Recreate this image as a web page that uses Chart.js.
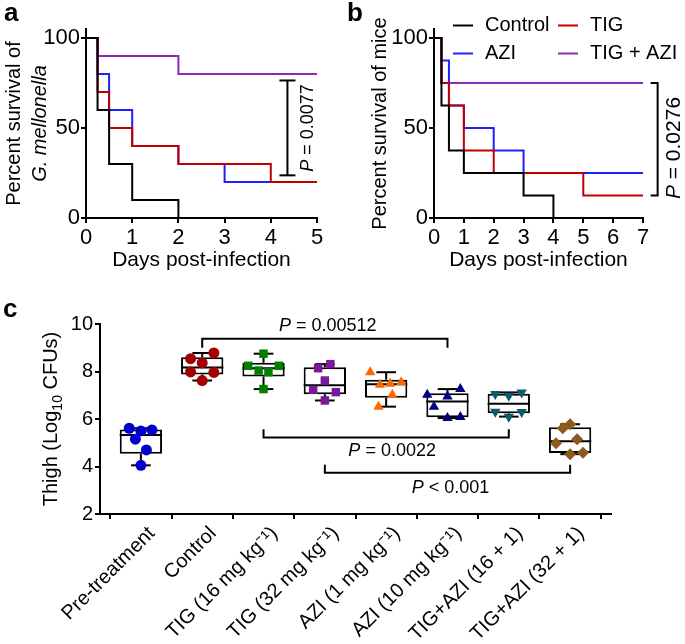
<!DOCTYPE html>
<html>
<head>
<meta charset="utf-8">
<script src="https://cdn.jsdelivr.net/npm/chart.js@4.4.1/dist/chart.umd.min.js"></script>
<style>
  html, body { margin: 0; padding: 0; background: #fff; }
  body { width: 685px; height: 644px; position: relative; overflow: hidden; }
  canvas { position: absolute; }
  #chartA { left: 0; top: 0; }
  #chartB { left: 340px; top: 0; }
  #chartC { left: 0; top: 290px; }
</style>
</head>
<body>
<canvas id="chartA" width="340" height="290"></canvas>
<canvas id="chartB" width="345" height="290"></canvas>
<canvas id="chartC" width="685" height="354"></canvas>
<script>
// panel a: G. mellonella survival (day of change, % alive from then on)
const aControlDays = [0, 0.25, 0.5, 1, 2];
const aControlSurv = [100, 60, 30, 10, 0];
const aTigDays = [0, 0.25, 0.5, 1, 2, 4, 5];
const aTigSurv = [100, 70, 50, 40, 30, 20, 20];
const aAziDays = [0, 0.25, 0.5, 1, 2, 3, 5];
const aAziSurv = [100, 80, 60, 40, 30, 20, 20];
const aComboDays = [0, 0.25, 2, 5];
const aComboSurv = [100, 90, 80, 80];
const aDayTicks = [0, 1, 2, 3, 4, 5];

// panel b: mouse survival
const bControlDays = [0, 0.25, 0.5, 1, 3, 4];
const bControlSurv = [100, 62.5, 37.5, 25, 12.5, 0];
const bTigDays = [0, 0.25, 0.5, 1, 2, 5, 7];
const bTigSurv = [100, 75, 62.5, 37.5, 25, 12.5, 12.5];
const bAziDays = [0, 0.25, 0.5, 1, 2, 3, 7];
const bAziSurv = [100, 87.5, 62.5, 50, 37.5, 25, 25];
const bComboDays = [0, 0.25, 7];
const bComboSurv = [100, 75, 75];
const bDayTicks = [0, 1, 2, 3, 4, 5, 6, 7];

const survivalNames = ['Control', 'TIG', 'AZI', 'TIG + AZI'];
const survivalTicks = [0, 50, 100];

// panel c: thigh burden, log10 CFU per mouse
const thighGroups = ['Pre-treatment', 'Control', 'TIG (16 mg kg\u207B\u00B9)', 'TIG (32 mg kg\u207B\u00B9)',
  'AZI (1 mg kg\u207B\u00B9)', 'AZI (10 mg kg\u207B\u00B9)', 'TIG+AZI (16 + 1)', 'TIG+AZI (32 + 1)'];
const thighLog = [
  [5.61, 5.50, 5.54, 5.15, 4.70, 4.05],
  [8.54, 8.78, 8.36, 7.98, 7.96, 7.62],
  [8.75, 8.24, 8.24, 8.04, 7.97, 7.26],
  [8.14, 8.31, 7.62, 7.23, 7.13, 6.78],
  [7.97, 7.44, 7.48, 7.55, 7.02, 6.52],
  [7.02, 6.95, 7.26, 6.52, 6.04, 6.08],
  [7.05, 6.98, 7.12, 6.31, 6.10, 6.29],
  [5.61, 5.78, 4.98, 5.15, 4.52, 4.58]
];
// horizontal scatter of each dot inside its column (category units)
const thighSpread = [
  [-0.19, 0, 0.18, -0.09, 0.09, 0],
  [-0.19, 0.19, 0, -0.19, 0.19, 0],
  [0, -0.25, 0.25, -0.08, 0.08, 0],
  [-0.11, 0.09, 0, -0.19, 0.18, 0],
  [-0.26, -0.1, 0.065, 0.245, 0.1, -0.125],
  [-0.33, 0, 0.21, -0.22, 0, 0.21],
  [-0.22, 0, 0.21, -0.22, 0, 0.21],
  [-0.12, 0, -0.23, 0.115, 0, 0.21]
];
const thighTicks = [2, 4, 6, 8, 10];
const cBracketFrom = [1, 2, 3];
const cBracketTo = [5, 6, 7];
const cBracketLevel = [9.38, 5.22, 3.74];
const cBracketTip = [9.0, 5.57, 4.07];
const cBracketP = [' = 0.00512', ' = 0.0022', ' < 0.001'];

const FONT = "'Liberation Sans', Arial, Helvetica, sans-serif";
Chart.defaults.font.family = FONT;
Chart.defaults.color = '#000';

const survivalColors = ['#000000', '#c00000', '#1f1fff', '#8a2ab5'];
const groupColors = ['#0000cd', '#a30000', '#008000', '#7a1a9a', '#ff6600', '#000080', '#0d5a6c', '#8c5a1c'];
const groupMarkers = ['circle', 'circle', 'rect', 'rect', 'triangle', 'triangle', 'triangle', 'rectRot'];
const groupRotation = [0, 0, 0, 0, 0, 0, 180, 0];
const groupRadius = [5.5, 5.5, 6, 6, 6, 6, 6, 6];

function axis(opts) {
  return Object.assign({
    type: 'linear',
    grid: { display: true, drawOnChartArea: false, drawTicks: true, tickLength: 5, color: '#000', lineWidth: 2 },
    border: { display: true, color: '#000', width: 2 }
  }, opts);
}

function fixedTicks(values) {
  return ax => { ax.ticks = values.map(v => ({ value: v })); };
}

function survivalSet(i, days, surv) {
  return {
    label: survivalNames[i],
    data: days.map((d, k) => ({ x: d, y: surv[k] })),
    borderColor: survivalColors[i],
    backgroundColor: survivalColors[i],
    borderWidth: 2,
    stepped: 'before',
    pointRadius: 0,
    borderJoinStyle: 'miter',
    borderCapStyle: 'butt'
  };
}

function drawP(ctx, rest, size, x, y, rotate) {
  ctx.save();
  ctx.translate(x, y);
  if (rotate) ctx.rotate(-Math.PI / 2);
  ctx.fillStyle = '#000';
  ctx.textBaseline = 'middle';
  ctx.textAlign = 'left';
  ctx.font = 'italic ' + size + 'px ' + FONT;
  const wP = ctx.measureText('P').width;
  ctx.font = size + 'px ' + FONT;
  const wR = ctx.measureText(rest).width;
  const start = -(wP + wR) / 2;
  ctx.font = 'italic ' + size + 'px ' + FONT;
  ctx.fillText('P', start, 0);
  ctx.font = size + 'px ' + FONT;
  ctx.fillText(rest, start + wP, 0);
  ctx.restore();
}

function letter(ctx, t, x, y) {
  ctx.save();
  ctx.fillStyle = '#000';
  ctx.font = 'bold 26px ' + FONT;
  ctx.textBaseline = 'alphabetic';
  ctx.fillText(t, x, y);
  ctx.restore();
}

function line(ctx, pts) {
  ctx.beginPath();
  ctx.moveTo(pts[0][0], pts[0][1]);
  for (let i = 1; i < pts.length; i++) ctx.lineTo(pts[i][0], pts[i][1]);
  ctx.stroke();
}

// ---------- a ----------
const panelA = {
  id: 'panelA',
  afterDraw(chart) {
    const { ctx, chartArea, scales: { x, y } } = chart;
    letter(ctx, 'a', 4, 21);
    ctx.save();
    ctx.fillStyle = '#000';
    ctx.translate(0, (chartArea.top + chartArea.bottom) / 2);
    ctx.rotate(-Math.PI / 2);
    ctx.textAlign = 'center';
    ctx.textBaseline = 'alphabetic';
    ctx.font = '20px ' + FONT;
    ctx.fillText('Percent survival of', 0, 19.5);
    ctx.font = 'italic 20px ' + FONT;
    ctx.fillText('G. mellonella', 0, 46);
    ctx.restore();

    const bx = x.getPixelForValue(4.36);
    const top = y.getPixelForValue(76.4), bot = y.getPixelForValue(23.7);
    ctx.save();
    ctx.strokeStyle = '#000';
    ctx.lineWidth = 2;
    line(ctx, [[bx, top], [bx, bot]]);
    line(ctx, [[bx - 8, top], [bx + 8, top]]);
    line(ctx, [[bx - 8, bot], [bx + 8, bot]]);
    ctx.restore();
    drawP(ctx, ' = 0.0077', 18, bx + 21, (top + bot) / 2, true);
  }
};

new Chart(document.getElementById('chartA'), {
  type: 'line',
  data: {
    datasets: [
      survivalSet(0, aControlDays, aControlSurv),
      survivalSet(1, aTigDays, aTigSurv),
      survivalSet(2, aAziDays, aAziSurv),
      survivalSet(3, aComboDays, aComboSurv)
    ]
  },
  options: {
    responsive: false,
    animation: false,
    layout: { padding: { top: 29, right: 23, left: 0, bottom: 0 } },
    plugins: { legend: { display: false }, tooltip: { enabled: false } },
    scales: {
      x: axis({
        min: 0, max: 5,
        ticks: { font: { size: 22 }, padding: 2, maxRotation: 0 },
        afterBuildTicks: fixedTicks(aDayTicks),
        afterFit: ax => { ax.height = 72; },
        title: { display: true, text: 'Days post-infection', font: { size: 21 }, padding: { top: 0, bottom: 17 } }
      }),
      y: axis({
        min: 0, max: 105,
        ticks: { font: { size: 22 }, padding: 1 },
        afterBuildTicks: fixedTicks(survivalTicks),
        afterFit: ax => { ax.width = 86; }
      })
    }
  },
  plugins: [panelA]
});

// ---------- b ----------
const panelB = {
  id: 'panelB',
  afterDraw(chart) {
    const { ctx, scales: { x, y } } = chart;
    letter(ctx, 'b', 7, 21);

    // legend, two columns
    const cols = [113, 218], rows = [25.5, 53.5];
    ctx.save();
    ctx.lineWidth = 2;
    ctx.font = '20px ' + FONT;
    ctx.textBaseline = 'middle';
    ctx.textAlign = 'left';
    ctx.fillStyle = '#000';
    survivalNames.forEach((name, i) => {
      const cx = cols[i % 2], cy = rows[Math.floor(i / 2)];
      ctx.strokeStyle = survivalColors[i];
      line(ctx, [[cx, cy], [cx + 20, cy]]);
      ctx.fillText(name, cx + 32, cy);
    });
    ctx.restore();

    const bx = x.getPixelForValue(7.49);
    const top = y.getPixelForValue(75), bot = y.getPixelForValue(12.5);
    ctx.save();
    ctx.strokeStyle = '#000';
    ctx.lineWidth = 2;
    ctx.lineJoin = 'miter';
    line(ctx, [[bx - 7, top], [bx, top], [bx, bot], [bx - 7, bot]]);
    ctx.restore();
    drawP(ctx, ' = 0.0276', 21, bx + 17, 148, true);
  }
};

new Chart(document.getElementById('chartB'), {
  type: 'line',
  data: {
    datasets: [
      survivalSet(0, bControlDays, bControlSurv),
      survivalSet(1, bTigDays, bTigSurv),
      survivalSet(2, bAziDays, bAziSurv),
      survivalSet(3, bComboDays, bComboSurv)
    ]
  },
  options: {
    responsive: false,
    animation: false,
    layout: { padding: { top: 29, right: 42, left: 0, bottom: 0 } },
    plugins: { legend: { display: false }, tooltip: { enabled: false } },
    scales: {
      x: axis({
        min: 0, max: 7,
        ticks: { font: { size: 22 }, padding: 2, maxRotation: 0, autoSkip: false },
        afterBuildTicks: fixedTicks(bDayTicks),
        afterFit: ax => { ax.height = 72; },
        title: { display: true, text: 'Days post-infection', font: { size: 21 }, padding: { top: 0, bottom: 17 } }
      }),
      y: axis({
        min: 0, max: 105,
        ticks: { font: { size: 22 }, padding: 1 },
        afterBuildTicks: fixedTicks(survivalTicks),
        afterFit: ax => { ax.width = 94; },
        title: { display: true, text: 'Percent survival of mice', font: { size: 20 }, padding: { top: 28, bottom: 0 } }
      })
    }
  },
  plugins: [panelB]
});

// ---------- c ----------
function quartile(sorted, p) {
  const pos = p * (sorted.length + 1) - 1;
  const lo = Math.max(0, Math.floor(pos)), hi = Math.min(sorted.length - 1, Math.ceil(pos));
  return sorted[lo] + (sorted[hi] - sorted[lo]) * (pos - lo);
}
const thighStats = thighLog.map(v => {
  const s = v.slice().sort((a, b) => a - b);
  return { min: s[0], q1: quartile(s, 0.25), med: quartile(s, 0.5), q3: quartile(s, 0.75), max: s[s.length - 1] };
});

const panelC = {
  id: 'panelC',
  afterDatasetDraw(chart, args) {
    if (args.meta.type !== 'bar') return;
    const { ctx, scales: { x, y } } = chart;
    ctx.save();
    ctx.strokeStyle = '#000';
    ctx.lineWidth = 2;
    thighStats.forEach((s, i) => {
      const el = args.meta.data[i];
      const { x: cx, width } = el.getProps(['x', 'width'], true);
      const cap = x.getPixelForValue(i + 0.16) - cx;
      line(ctx, [[cx, y.getPixelForValue(s.q3)], [cx, y.getPixelForValue(s.max)]]);
      line(ctx, [[cx, y.getPixelForValue(s.q1)], [cx, y.getPixelForValue(s.min)]]);
      line(ctx, [[cx - cap, y.getPixelForValue(s.max)], [cx + cap, y.getPixelForValue(s.max)]]);
      line(ctx, [[cx - cap, y.getPixelForValue(s.min)], [cx + cap, y.getPixelForValue(s.min)]]);
      line(ctx, [[cx - width / 2, y.getPixelForValue(s.med)], [cx + width / 2, y.getPixelForValue(s.med)]]);
    });
    ctx.restore();
  },
  afterDraw(chart) {
    const { ctx, chartArea, scales: { x, y } } = chart;
    letter(ctx, 'c', 3, 27);

    // y title with subscript
    ctx.save();
    ctx.fillStyle = '#000';
    ctx.translate(56.5, (chartArea.top + chartArea.bottom) / 2);
    ctx.rotate(-Math.PI / 2);
    ctx.textBaseline = 'alphabetic';
    ctx.textAlign = 'left';
    const parts = [['Thigh (Log', 20, 0], ['10', 14, 5], [' CFUs)', 20, 0]];
    let total = 0;
    parts.forEach(p => { ctx.font = p[1] + 'px ' + FONT; p.w = ctx.measureText(p[0]).width; total += p.w; });
    let u = -total / 2;
    parts.forEach(p => { ctx.font = p[1] + 'px ' + FONT; ctx.fillText(p[0], u, p[2]); u += p.w; });
    ctx.restore();

    // significance brackets
    const textDy = [-13, 13.5, 15];
    const textDx = [3, 6, 3];
    ctx.save();
    ctx.strokeStyle = '#000';
    ctx.lineWidth = 2;
    ctx.lineJoin = 'miter';
    cBracketFrom.forEach((f, i) => {
      const x1 = x.getPixelForValue(f), x2 = x.getPixelForValue(cBracketTo[i]);
      const yl = y.getPixelForValue(cBracketLevel[i]), yt = y.getPixelForValue(cBracketTip[i]);
      line(ctx, [[x1, yt], [x1, yl], [x2, yl], [x2, yt]]);
      drawP(ctx, cBracketP[i], 18, (x1 + x2) / 2 + textDx[i], yl + textDy[i], false);
    });
    ctx.restore();
  }
};

const scatterSets = thighLog.map((vals, i) => ({
  type: 'scatter',
  label: thighGroups[i],
  data: vals.map((v, k) => ({ x: i + thighSpread[i][k], y: v })),
  pointStyle: groupMarkers[i],
  rotation: groupRotation[i],
  pointRadius: groupRadius[i],
  backgroundColor: groupColors[i],
  borderColor: groupColors[i],
  borderWidth: 0,
  order: 0
}));

new Chart(document.getElementById('chartC'), {
  type: 'bar',
  data: {
    datasets: [{
      type: 'bar',
      label: 'box',
      data: thighStats.map((s, i) => ({ x: i, y: [s.q1, s.q3] })),
      backgroundColor: '#ffffff',
      borderColor: '#000000',
      borderWidth: 2,
      borderSkipped: false,
      barPercentage: 0.69,
      categoryPercentage: 1,
      order: 10
    }].concat(scatterSets)
  },
  options: {
    responsive: false,
    animation: false,
    layout: { padding: { top: 34, right: 74, left: 0, bottom: 0 } },
    plugins: { legend: { display: false }, tooltip: { enabled: false } },
    scales: {
      x: axis({
        min: -0.667, max: 7.667,
        offset: false,
        ticks: { font: { size: 20 }, padding: 3, labelOffset: 11, autoSkip: false, minRotation: 45, maxRotation: 45,
          callback: v => thighGroups[v] },
        afterBuildTicks: fixedTicks(thighGroups.map((g, i) => i)),
        afterFit: ax => { ax.height = 130; }
      }),
      y: axis({
        min: 2, max: 10,
        ticks: { font: { size: 20 }, padding: 2 },
        afterBuildTicks: fixedTicks(thighTicks),
        afterFit: ax => { ax.width = 100; }
      })
    }
  },
  plugins: [panelC]
});
</script>
</body>
</html>
